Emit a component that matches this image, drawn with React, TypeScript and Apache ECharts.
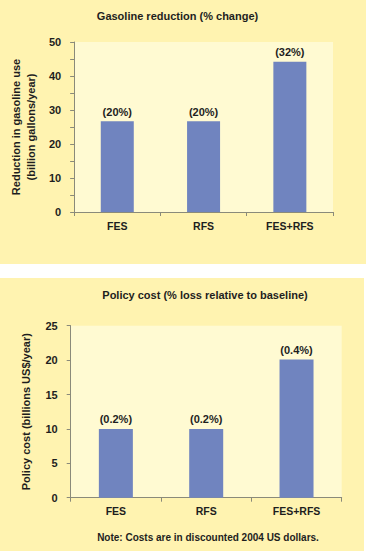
import React, { useEffect, useRef } from "react";
import * as echarts from "echarts";

const categories = ["FES", "RFS", "FES+RFS"];
const gasolineValues = [26.7, 26.7, 44.2];
const gasolineLabels = ["(20%)", "(20%)", "(32%)"];
const costValues = [10, 10, 20.1];
const costLabels = ["(0.2%)", "(0.2%)", "(0.4%)"];

const FONT = "'Liberation Sans', Arial, Helvetica, sans-serif";
const TEXT = "#1e1e1e";
const AXIS = "#8a8a7a";
const BAR = "#7084bf";
const PANEL = "#fff3b0";
const PLOT = "#fffad2";

export default function App() {
  const ref = useRef<HTMLDivElement>(null);
  useEffect(() => {
    if (!ref.current) return;
    const chart = echarts.init(ref.current, null, { renderer: "svg" });
    const yAxisCommon = (name: string, nameGap: number) => ({
      type: "value" as const,
      name,
      nameLocation: "middle" as const,
      nameRotate: 90,
      nameGap,
      nameTextStyle: { fontFamily: FONT, fontWeight: "bold" as const, fontSize: 11, color: TEXT, lineHeight: 15 },
      axisLine: { show: true, lineStyle: { color: AXIS, width: 1 } },
      axisTick: { show: true, length: 4, lineStyle: { color: AXIS } },
      minorTick: { show: true, splitNumber: 2, length: 4, lineStyle: { color: AXIS } },
      splitLine: { show: false },
      axisLabel: { fontFamily: FONT, fontWeight: "bold" as const, fontSize: 11, color: TEXT, margin: 13 },
    });
    const xAxisCommon = {
      type: "category" as const,
      data: categories,
      axisLine: { show: true, lineStyle: { color: AXIS, width: 1 } },
      axisTick: { show: true, length: 4, alignWithLabel: false, lineStyle: { color: AXIS } },
      axisLabel: { fontFamily: FONT, fontWeight: "bold" as const, fontSize: 10.5, color: TEXT, margin: 8 },
    };
    const labelStyle = { fontFamily: FONT, fontWeight: "bold" as const, fontSize: 11, color: TEXT };
    chart.setOption({
      animation: false,
      backgroundColor: "#ffffff",
      graphic: [
        { type: "rect", z: -10, shape: { x: 0, y: 0, width: 366, height: 264 }, style: { fill: PANEL } },
        { type: "rect", z: -10, shape: { x: 0, y: 278, width: 364, height: 273 }, style: { fill: PANEL } },
        {
          type: "text", x: 177.5, y: 16,
          style: { text: "Gasoline reduction (% change)", fontFamily: FONT, fontWeight: "bold", fontSize: 11, fill: TEXT, align: "center", verticalAlign: "middle" },
        },
        {
          type: "text", x: 205, y: 294.5,
          style: { text: "Policy cost (% loss relative to baseline)", fontFamily: FONT, fontWeight: "bold", fontSize: 11, fill: TEXT, align: "center", verticalAlign: "middle" },
        },
        {
          type: "text", x: 208, y: 537,
          style: { text: "Note: Costs are in discounted 2004 US dollars.", fontFamily: FONT, fontWeight: "bold", fontSize: 10, fill: TEXT, align: "center", verticalAlign: "middle" },
        },
      ],
      grid: [
        { left: 70.7, top: 42, width: 262.3, height: 170, show: true, backgroundColor: PLOT, borderWidth: 0 },
        { left: 70.7, top: 325.7, width: 271, height: 172, show: true, backgroundColor: PLOT, borderWidth: 0 },
      ],
      xAxis: [
        { ...xAxisCommon, gridIndex: 0 },
        { ...xAxisCommon, gridIndex: 1 },
      ],
      yAxis: [
        { ...yAxisCommon("Reduction in gasoline use\n(billion gallons/year)", 35), gridIndex: 0, min: 0, max: 50, interval: 10 },
        { ...yAxisCommon("Policy cost (billions US$/year)", 37), gridIndex: 1, min: 0, max: 25, interval: 5, minorTick: { show: false } },
      ],
      series: [
        {
          type: "bar", xAxisIndex: 0, yAxisIndex: 0, data: gasolineValues, barWidth: 33,
          itemStyle: { color: BAR },
          label: { show: true, position: "top", distance: 4, ...labelStyle, formatter: (p: any) => gasolineLabels[p.dataIndex] },
        },
        {
          type: "bar", xAxisIndex: 1, yAxisIndex: 1, data: costValues, barWidth: 34,
          itemStyle: { color: BAR },
          label: { show: true, position: "top", distance: 4, ...labelStyle, formatter: (p: any) => costLabels[p.dataIndex] },
        },
      ],
    });
    return () => chart.dispose();
  }, []);
  return (
    <div
      ref={ref}
      style={{ position: "absolute", left: 0, top: 0, width: 366, height: 553 }}
    />
  );
}
